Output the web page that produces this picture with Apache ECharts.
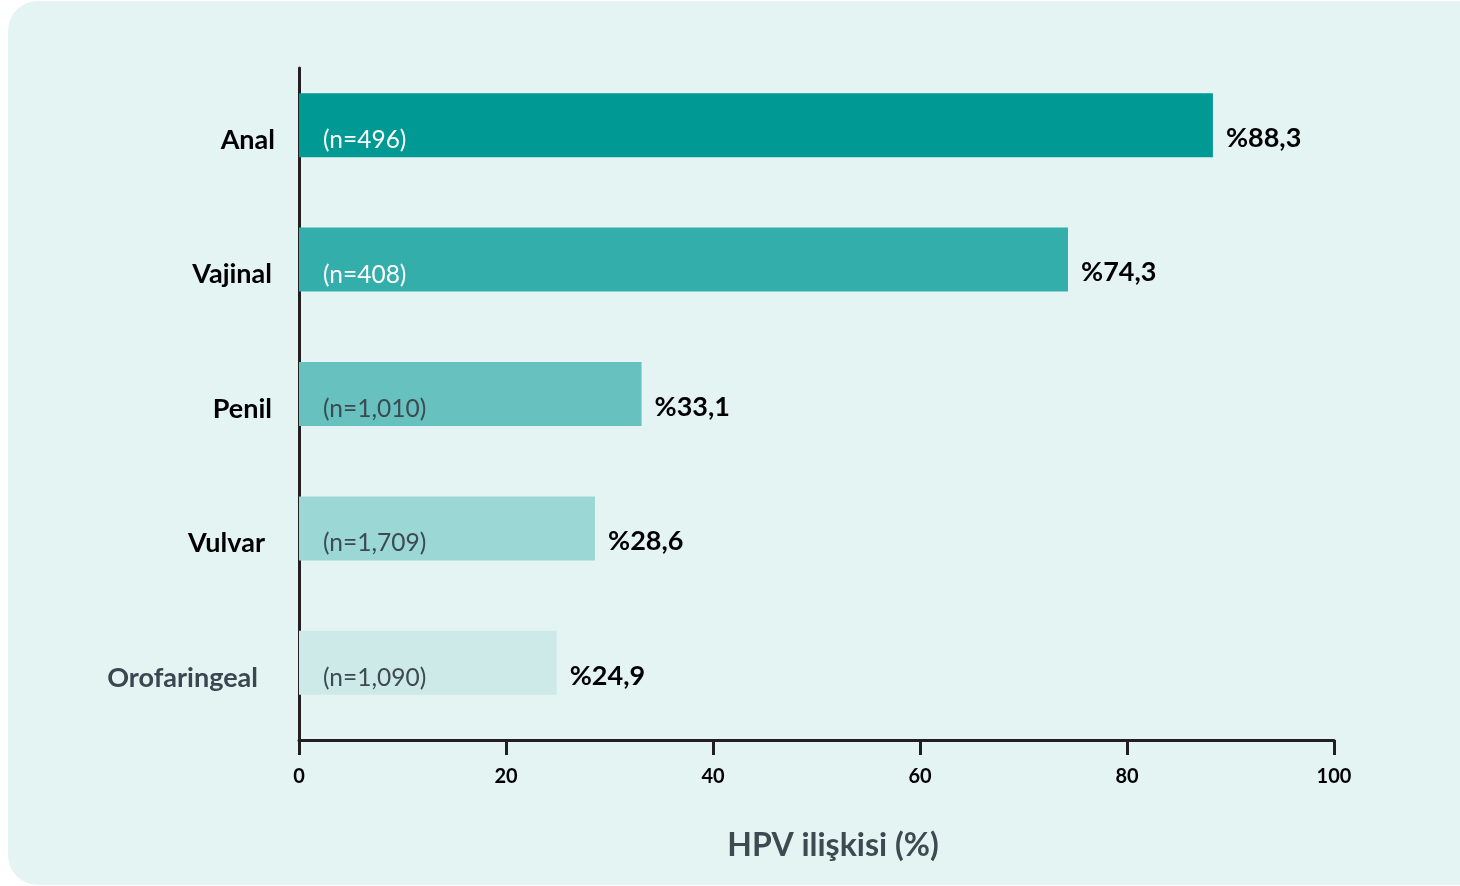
<!DOCTYPE html>
<html>
<head>
<meta charset="utf-8">
<script src="https://cdn.jsdelivr.net/npm/echarts@6/dist/echarts.min.js"></script>
<style>
html,body{margin:0;padding:0;background:#ffffff;}
#c{width:1460px;height:886px;}
</style>
</head>
<body>
<div id="c"></div>
<script>
var categories = ['Anal', 'Vajinal', 'Penil', 'Vulvar', 'Orofaringeal'];
var hpvPercent = [88.3, 74.3, 33.1, 28.6, 24.9];
var sampleSizes = ['496', '408', '1,010', '1,709', '1,090'];
var xTicks = [0, 20, 40, 60, 80, 100];

var barColors = ['#009994', '#33aeab', '#66c1bf', '#9bd7d5', '#cdeae9'];
var innerLabelColors = ['#ffffff', '#ffffff', '#3d4a52', '#3d4a52', '#3d4a52'];
var catStyle = {
  'Anal': {color: '#000000', pad: 0},
  'Vajinal': {color: '#000000', pad: 3},
  'Penil': {color: '#000000', pad: 3},
  'Vulvar': {color: '#000000', pad: 10},
  'Orofaringeal': {color: '#3b4750', pad: 17}
};
var FONT = 'Lato';

var rich = {};
categories.forEach(function (c, i) {
  rich['c' + i] = {
    fontFamily: FONT, fontWeight: 'bold', fontSize: 27,
    color: catStyle[c].color, padding: [30, catStyle[c].pad, 0, 0]
  };
});

var chart = echarts.init(document.getElementById('c'));
chart.setOption({
  backgroundColor: '#ffffff',
  animation: false,
  graphic: [{
    type: 'rect', z: -10, silent: true,
    shape: {x: 8, y: 1, width: 1490, height: 884, r: 30},
    style: {fill: '#e4f4f3'}
  }],
  grid: [
    {left: 299, width: 1035, top: 58, height: 672},
    {left: 299, width: 1035, top: 68, height: 672}
  ],
  xAxis: [
    {gridIndex: 0, type: 'value', min: 0, max: 100, show: false},
    {
      gridIndex: 1, type: 'value', min: xTicks[0], max: xTicks[xTicks.length - 1],
      interval: xTicks[1] - xTicks[0],
      splitLine: {show: false},
      axisLine: {show: true, lineStyle: {color: '#231f20', width: 3}},
      axisTick: {show: true, length: 15, lineStyle: {color: '#231f20', width: 3}},
      axisLabel: {margin: 27, fontFamily: FONT, fontWeight: 'bold', fontSize: 20, color: '#000000'},
      name: 'HPV ilişkisi (%)', nameLocation: 'middle', nameGap: 90,
      nameTextStyle: {fontFamily: FONT, fontWeight: 'bold', fontSize: 32, color: '#3d4a52', padding: [0, 0, 0, 33]}
    }
  ],
  yAxis: [
    {
      gridIndex: 0, type: 'category', inverse: true, data: categories,
      axisLine: {show: false}, axisTick: {show: false},
      axisLabel: {
        margin: 24,
        formatter: function (v) { return '{c' + categories.indexOf(v) + '|' + v + '}'; },
        rich: rich
      }
    },
    {
      gridIndex: 1, type: 'category', inverse: true, data: categories,
      axisLine: {show: true, lineStyle: {color: '#231f20', width: 3}},
      axisTick: {show: false}, axisLabel: {show: false}
    }
  ],
  series: [
    {
      type: 'bar', xAxisIndex: 0, yAxisIndex: 0, barWidth: 64, barGap: '-100%', z: 2,
      data: hpvPercent.map(function (v, i) {
        return {value: v, itemStyle: {color: barColors[i]}};
      }),
      label: {
        show: true, position: 'right', distance: 13, offset: [0, 13],
        fontFamily: FONT, fontWeight: 'bold', fontSize: 27, color: '#000000',
        formatter: function (p) { return '%' + String(p.value).replace('.', ','); }
      }
    },
    {
      type: 'bar', xAxisIndex: 0, yAxisIndex: 0, barWidth: 64, barGap: '-100%', z: 3,
      silent: true,
      data: hpvPercent.map(function (v, i) {
        return {
          value: v, itemStyle: {color: 'rgba(0,0,0,0)'},
          label: {color: innerLabelColors[i]}
        };
      }),
      label: {
        show: true, position: 'insideLeft', distance: 24, offset: [0, 15],
        fontFamily: FONT, fontSize: 24.5,
        formatter: function (p) { return '(n=' + sampleSizes[p.dataIndex] + ')'; }
      }
    }
  ]
});
</script>
</body>
</html>
